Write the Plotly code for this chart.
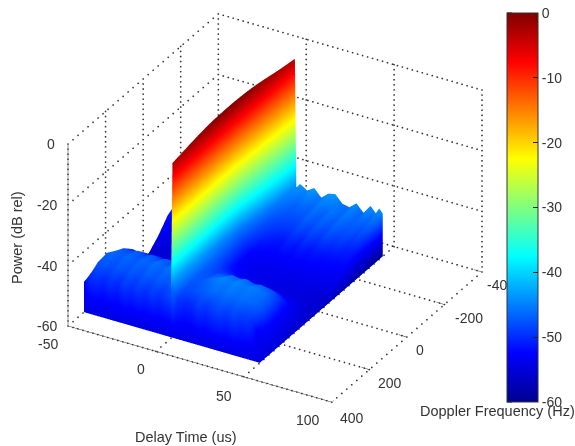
import numpy as np
import plotly.graph_objects as go

delay_us = [-50,-47,-43,-39,-35,-31,-27,-23,-19,-15,-11,-7,-3,-0.8,0,0.8,3,7,11,15,19,23,27,31,35,39,43,46,48,50]
doppler_hz = [315,312,270,220,170,120,70,20,-30,-80,-130,-180,-230,-280,-340]
power_db = [
 [-50,-47.5,-47,-48,-47,-48,-46.5,-47.5,-46.5,-47.5,-46.5,-47.5,-46.5,-46,-44,-44,-47,-48,-48,-46.5,-47.5,-46.5,-46,-47,-46,-47,-47,-48,-50,-52],
 [-50,-47.5,-47,-48,-47,-48,-46.5,-47.5,-46.5,-47.5,-46.5,-47.5,-46.5,-46,-2.6,-41,-47,-48,-48,-46.5,-47.5,-46.5,-46,-47,-46,-47,-47,-48,-50,-52],
 [-49,-45.5,-45,-46,-45,-46,-45,-46,-44.5,-45.5,-44.5,-45.5,-44.5,-45,-2.1,-41,-46,-46,-45,-44.5,-43.5,-44,-43,-44,-43.5,-44,-44.5,-46,-47.5,-49.5],
 [-47.5,-45,-44,-45,-44,-45,-44,-44.5,-43.5,-44.5,-43.5,-44,-43,-44,-1.4,-41,-45,-45,-44,-43,-42,-43,-42,-43,-42.5,-43,-44,-46,-48,-50.5],
 [-48,-47,-45.5,-46,-45,-46,-45,-46,-45,-46,-45,-46,-45,-46,-0.8,-41,-45,-46,-45,-45,-44,-44.5,-44,-45,-44.5,-45,-46,-47.5,-49.5,-52.5],
 [-51.5,-49.5,-48.5,-49,-48.5,-49,-48.5,-49,-48.5,-49,-48.5,-49,-48.5,-49,-0.3,-41.5,-45,-47,-47.5,-48,-48.5,-48,-48.5,-49,-48.5,-49,-50,-51.5,-53,-55.5],
 [-55,-53.5,-53,-53,-53,-53,-53,-53,-53,-53,-53,-53,-53,-53,-0.1,-42,-46,-49,-50.5,-52,-52.5,-53,-52.5,-53,-53,-53.5,-54,-55.5,-57,-58.5],
 [-59,-57.5,-57,-57,-57,-57,-57,-57,-57,-57,-57,-57,-57,-57,0,-42.5,-46.5,-50,-52,-53.5,-54.5,-55,-54.5,-55.5,-55.5,-56,-56.5,-57.5,-59,-60],
 [-59,-58,-58,-58,-58,-58,-58,-58,-58,-58,-58,-58,-58,-58,-0.1,-43,-47,-50,-52,-53,-53.5,-53,-54,-54,-54.5,-54.5,-55.5,-56.5,-57.5,-58.5],
 [-56,-53,-54,-54,-54,-54,-54,-54,-54,-54,-54,-54,-54,-54,-0.3,-43.5,-47,-49.5,-50.5,-51.5,-51,-52,-51,-52,-51.5,-52.5,-52.5,-54,-54.5,-56],
 [-52,-49,-50,-50,-50,-50,-50,-50,-50,-50,-50,-50,-50,-50,-0.7,-44,-47,-48.5,-49.5,-50,-49,-50,-49,-50,-49.5,-50.5,-50.5,-51.5,-51.5,-53],
 [-50,-47,-48,-48,-48,-48,-48,-48,-48,-48,-48,-48,-48,-48,-1.3,-44.5,-47,-48,-48.5,-48.5,-47.5,-48.5,-47.5,-48.5,-47.5,-48.5,-48.5,-49.5,-49.5,-51],
 [-49,-46,-47,-47,-47,-47,-47,-47,-47,-47,-47,-47,-47,-47,-2.0,-45,-46.5,-47.5,-47.5,-47.5,-46.5,-47.5,-46.5,-47.5,-46.5,-47.5,-47.5,-48.5,-48,-49.5],
 [-48,-45.5,-46,-46,-46,-46,-46,-46,-46,-46,-46,-46,-46,-46,-2.6,-45,-46,-47,-46.5,-47,-46,-47,-46,-47,-46,-47,-47,-47.5,-47,-48],
 [-47,-45,-45,-45,-45,-45,-45,-45,-45,-45,-45,-45,-45,-45,-3.2,-45.5,-44,-45.5,-44,-46.5,-44.5,-44,-46.5,-47,-45,-47.5,-44.5,-46.5,-44.5,-46],
]
color_row_shift = [0,0,0,0,0,0,0,0,0,0.5,1,1.5,2,2.5,3]
power_ticks = [-60,-40,-20,0]
delay_ticks = [-50,0,50,100]
doppler_ticks = [-400,-200,0,200,400]
doppler_labels = ['-40','-200','0','200','400']
bar_ticks = [-60,-50,-40,-30,-20,-10,0]
jet_stops = [[0,'#00008f'],[0.125,'#0000ff'],[0.375,'#00ffff'],[0.625,'#ffff00'],[0.875,'#ff0000'],[1,'#800000']]
height_in = [-60,-50,-46,-42,-36,0]
color_out = [-56,-52.5,-48,-44.5,-37,0]

Z_MIN,Z_MAX=-60,0
X_MIN,X_MAX=-50,100
Y_NEAR,Y_FAR=400,-400
W,H=575,446
BAR_L,BAR_W,BAR_T,BAR_LEN=507,31,13,389
ZOOM=1.464

xa=np.array(delay_us,float); ya=np.array(doppler_hz,float); za=np.array(power_db,float)
xs=np.r_[xa,xa[-1]]; ys=np.r_[ya[0],ya]
X,Y=np.meshgrid(xs,ys)
Z=np.full(X.shape,float(Z_MIN)); Z[1:,:-1]=za
C=np.interp(Z,height_in,color_out)
C[1:,:-1]+=np.array(color_row_shift)[:,None]*(za<-36)
C[0,:]=-54.5; C[:,-1]=np.interp(ys,[-340,-100,315],[-60,-57,-54.5])

fig=go.Figure()
fig.add_surface(x=X,y=Y,z=Z,surfacecolor=C,cmin=-60,cmax=0,colorscale=jet_stops,hoverinfo='skip',
    lighting=dict(ambient=1,diffuse=0,specular=0,roughness=1,fresnel=0),
    colorbar=dict(thickness=BAR_W,thicknessmode='pixels',len=BAR_LEN,lenmode='pixels',x=BAR_L/W,xanchor='left',xpad=0,
        y=1-BAR_T/H,yanchor='top',ypad=0,tickmode='array',tickvals=bar_ticks,ticktext=[str(v) for v in bar_ticks],
        ticks='inside',ticklen=5,tickcolor='#222',tickwidth=1,outlinecolor='#333',outlinewidth=1,
        tickfont=dict(family='Liberation Sans',size=14,color='#333')))

def segs(lst,color,width):
    xx,yy,zz=[],[],[]
    for a,b in lst:
        xx+=[a[0],b[0],None]; yy+=[a[1],b[1],None]; zz+=[a[2],b[2],None]
    fig.add_scatter3d(x=xx,y=yy,z=zz,mode='lines',line=dict(color=color,width=width),hoverinfo='skip',showlegend=False)

grid=[]
for v in delay_ticks:
    grid.append(((v,Y_NEAR,Z_MIN),(v,Y_FAR,Z_MIN)))
    grid.append(((v,Y_FAR,Z_MIN),(v,Y_FAR,Z_MAX)))
for v in doppler_ticks:
    grid.append(((X_MIN,v,Z_MIN),(X_MAX,v,Z_MIN)))
    grid.append(((X_MIN,v,Z_MIN),(X_MIN,v,Z_MAX)))
for v in power_ticks:
    grid.append(((X_MIN,Y_NEAR,v),(X_MIN,Y_FAR,v)))
    grid.append(((X_MIN,Y_FAR,v),(X_MAX,Y_FAR,v)))
DOT_PERIOD=5
gx,gy,gz=[],[],[]
for a,b in grid:
    a=np.array(a,float); b=np.array(b,float)
    px=np.hypot(*( (a-b)[:2]*[265/150,151/800] )) + abs((a-b)[2])*183/60
    n=max(int(px/DOT_PERIOD),2)
    t=np.arange(n+1)/n
    gx+=list(a[0]+t*(b[0]-a[0])); gy+=list(a[1]+t*(b[1]-a[1])); gz+=list(a[2]+t*(b[2]-a[2]))
fig.add_scatter3d(x=gx,y=gy,z=gz,mode='markers',marker=dict(size=1,color='#333',line=dict(width=0)),hoverinfo='skip',showlegend=False)

axes=[((X_MIN,Y_NEAR,Z_MIN),(X_MIN,Y_NEAR,Z_MAX)),((X_MIN,Y_NEAR,Z_MIN),(X_MAX,Y_NEAR,Z_MIN)),((X_MAX,Y_NEAR,Z_MIN),(X_MAX,Y_FAR,Z_MIN))]
for v in power_ticks: axes.append(((X_MIN,Y_NEAR,v),(X_MIN-3.4,Y_NEAR+10,v)))
for v in delay_ticks: axes.append(((v,Y_NEAR,Z_MIN),(v,Y_NEAR+26,Z_MIN)))
for v in doppler_ticks: axes.append(((X_MAX,v,Z_MIN),(X_MAX-4.5,v,Z_MIN)))
segs(axes,'#333',1)

font=dict(family='Liberation Sans',size=14,color='#333')
EPS=0.05
ann=[]
for v,sx,sy in zip(power_ticks,[-21,-21,-21,-17],[0,-1,0,0]):
    ann.append(dict(x=X_MIN+EPS,y=Y_NEAR,z=v,text=str(v),showarrow=False,font=font,xshift=sx,yshift=sy))
for v,sx,sy in zip(delay_ticks,[-20,-15,-20,-24],[-18,-18,-19,-18]):
    ann.append(dict(x=min(max(v,X_MIN+EPS),X_MAX-EPS),y=Y_NEAR,z=Z_MIN,text=str(v),showarrow=False,font=font,xshift=sx,yshift=sy))
for v,t,sx,sy in zip(doppler_ticks,doppler_labels,[15,25,13,21,20],[-13,-14,-13,-13,-16]):
    ann.append(dict(x=X_MAX-EPS,y=v,z=Z_MIN,text=t,showarrow=False,font=font,xshift=sx,yshift=sy))

left_ticks=[dict(type='line',xref='paper',yref='paper',x0=BAR_L/W,x1=(BAR_L+5)/W,
    y0=1-(BAR_T+BAR_LEN*(0-v)/60)/H,y1=1-(BAR_T+BAR_LEN*(0-v)/60)/H,line=dict(color='#222',width=1)) for v in bar_ticks]

fig.update_layout(width=W,height=H,margin=dict(l=0,r=0,t=0,b=0),paper_bgcolor='white',showlegend=False,shapes=left_ticks,
  scene=dict(domain=dict(x=[0,550/W],y=[1-416/H,1]),
    xaxis=dict(range=[X_MIN,X_MAX],visible=False),yaxis=dict(range=[Y_NEAR,Y_FAR],visible=False),zaxis=dict(range=[Z_MIN,Z_MAX],visible=False),
    aspectmode='manual',aspectratio=dict(x=1*ZOOM,y=0.987*ZOOM,z=0.69*ZOOM),bgcolor='white',annotations=ann,
    camera=dict(projection=dict(type='orthographic'),up=dict(x=0,y=0,z=1),center=dict(x=0,y=0,z=0),eye=dict(x=0.433*1.6,y=-0.75*1.6,z=0.5*1.6))),
  annotations=[
   dict(text='Delay Time (us)',x=186/W,y=1-437/H,xref='paper',yref='paper',xanchor='center',yanchor='middle',showarrow=False,font=dict(font,size=14.5)),
   dict(text='Doppler Frequency (Hz)',x=497/W,y=1-411/H,xref='paper',yref='paper',xanchor='center',yanchor='middle',showarrow=False,font=dict(font,size=14.5)),
   dict(text='Power (dB rel)',x=17/W,y=1-238/H,xref='paper',yref='paper',xanchor='center',yanchor='middle',showarrow=False,font=dict(font,size=14.5),textangle=-90),
  ])
fig.write_html("out.html",config=dict(displayModeBar=False),post_script="document.body.style.margin='0';document.documentElement.style.overflow='hidden';")
